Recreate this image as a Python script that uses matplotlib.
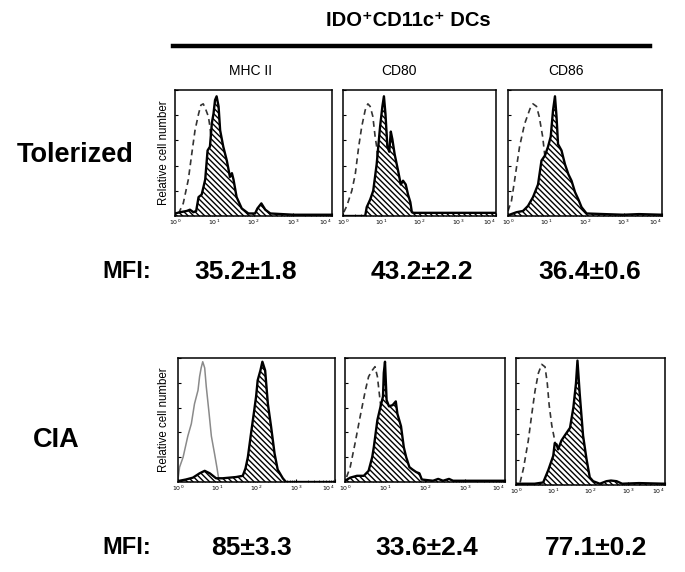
import matplotlib
matplotlib.use("Agg")
import matplotlib.pyplot as plt
import numpy as np

W, H = 685, 572

# ── data: positions in log10 decades (0..4), heights as fraction of panel ──
# Tolerized
tol_mhc_x   = [0.00, 0.13, 0.30, 0.38, 0.47, 0.54, 0.60, 0.68, 0.77, 0.83, 0.89, 0.94, 0.98, 1.02, 1.06,
               1.11, 1.15, 1.23, 1.32, 1.40, 1.45, 1.49, 1.57, 1.70, 1.87, 2.04, 2.10, 2.20, 2.30, 2.43, 3.02, 4.00]
tol_mhc_y   = [0.02, 0.03, 0.04, 0.05, 0.03, 0.04, 0.15, 0.17, 0.29, 0.52, 0.55, 0.74, 0.81, 0.92, 0.95,
               0.87, 0.68, 0.55, 0.44, 0.31, 0.34, 0.29, 0.15, 0.06, 0.02, 0.02, 0.06, 0.10, 0.05, 0.02, 0.01, 0.01]
tol_mhc_cx  = [0.09, 0.21, 0.34, 0.43, 0.51, 0.60, 0.66, 0.72, 0.79, 0.85, 0.89, 0.98, 1.06, 1.15, 1.30]
tol_mhc_cy  = [0.02, 0.10, 0.29, 0.50, 0.68, 0.81, 0.88, 0.89, 0.84, 0.79, 0.71, 0.42, 0.15, 0.02, 0.00]

tol_cd80_x  = [0.00, 0.58, 0.62, 0.71, 0.79, 0.88, 0.97, 1.03, 1.07, 1.11, 1.16, 1.21, 1.25, 1.29, 1.35,
               1.44, 1.51, 1.57, 1.64, 1.70, 1.76, 1.80, 1.85, 2.40, 3.00, 3.60, 4.00]
tol_cd80_y  = [0.00, 0.00, 0.07, 0.13, 0.20, 0.41, 0.71, 0.87, 0.95, 0.81, 0.55, 0.51, 0.67, 0.61, 0.49,
               0.36, 0.25, 0.28, 0.25, 0.17, 0.11, 0.03, 0.025, 0.025, 0.025, 0.025, 0.025]
tol_cd80_cx = [0.02, 0.10, 0.23, 0.32, 0.41, 0.49, 0.58, 0.65, 0.71, 0.78, 0.84, 0.88, 0.95, 1.05, 1.15]
tol_cd80_cy = [0.03, 0.08, 0.20, 0.33, 0.55, 0.71, 0.84, 0.89, 0.87, 0.79, 0.63, 0.55, 0.30, 0.10, 0.00]

tol_cd86_x  = [0.04, 0.22, 0.39, 0.52, 0.65, 0.78, 0.87, 0.96, 1.04, 1.11, 1.17, 1.22, 1.26, 1.30, 1.39,
               1.48, 1.57, 1.65, 1.74, 1.83, 1.91, 2.04, 2.50, 3.00, 3.40, 4.00]
tol_cd86_y  = [0.01, 0.03, 0.04, 0.08, 0.15, 0.25, 0.44, 0.48, 0.55, 0.63, 0.84, 0.95, 0.79, 0.57, 0.52,
               0.41, 0.33, 0.28, 0.19, 0.13, 0.07, 0.02, 0.015, 0.01, 0.015, 0.01]
tol_cd86_cx = [0.00, 0.09, 0.17, 0.30, 0.43, 0.57, 0.65, 0.74, 0.81, 0.90, 0.96, 1.05, 1.15]
tol_cd86_cy = [0.04, 0.12, 0.28, 0.55, 0.73, 0.85, 0.89, 0.87, 0.79, 0.63, 0.47, 0.25, 0.05]

# CIA
cia_mhc_x   = [0.04, 0.20, 0.38, 0.55, 0.68, 0.81, 0.97, 1.14, 1.31, 1.48, 1.65, 1.72, 1.78, 1.86, 1.93,
               1.99, 2.03, 2.10, 2.15, 2.22, 2.29, 2.37, 2.46, 2.54, 2.67, 2.75, 4.00]
cia_mhc_y   = [0.01, 0.02, 0.035, 0.07, 0.09, 0.07, 0.03, 0.03, 0.035, 0.04, 0.05, 0.11, 0.20, 0.39, 0.55,
               0.69, 0.82, 0.90, 0.97, 0.90, 0.63, 0.45, 0.23, 0.10, 0.03, 0.00, 0.00]
cia_mhc_cx  = [0.00, 0.04, 0.13, 0.25, 0.34, 0.42, 0.51, 0.55, 0.59, 0.63, 0.68, 0.72, 0.79, 0.85, 0.93, 0.99, 1.04]
cia_mhc_cy  = [0.02, 0.12, 0.20, 0.37, 0.47, 0.63, 0.74, 0.85, 0.92, 0.97, 0.92, 0.77, 0.56, 0.37, 0.23, 0.12, 0.02]

cia_cd80_x  = [0.00, 0.13, 0.30, 0.47, 0.59, 0.68, 0.72, 0.81, 0.89, 0.95, 0.97, 1.00, 1.04, 1.10, 1.19,
               1.27, 1.31, 1.40, 1.47, 1.53, 1.61, 1.69, 1.78, 1.86, 1.92, 2.20, 2.33, 2.45, 2.60, 2.70, 3.20, 4.00]
cia_cd80_y  = [0.01, 0.035, 0.05, 0.05, 0.09, 0.20, 0.28, 0.50, 0.61, 0.69, 0.88, 0.97, 0.66, 0.61, 0.62,
               0.65, 0.55, 0.45, 0.28, 0.20, 0.12, 0.10, 0.08, 0.07, 0.02, 0.01, 0.025, 0.01, 0.025, 0.01, 0.01, 0.01]
cia_cd80_cx = [0.04, 0.13, 0.25, 0.38, 0.51, 0.59, 0.68, 0.75, 0.81, 0.89, 0.97, 1.05, 1.15]
cia_cd80_cy = [0.04, 0.12, 0.31, 0.53, 0.74, 0.85, 0.90, 0.93, 0.85, 0.62, 0.35, 0.12, 0.00]

cia_cd86_x  = [0.00, 0.50, 0.73, 0.87, 1.00, 1.04, 1.09, 1.13, 1.22, 1.31, 1.45, 1.54, 1.61, 1.65, 1.71,
               1.80, 1.89, 1.98, 2.07, 2.25, 2.43, 2.55, 2.70, 2.85, 3.30, 4.00]
cia_cd86_y  = [0.01, 0.01, 0.02, 0.12, 0.23, 0.33, 0.32, 0.28, 0.35, 0.39, 0.45, 0.61, 0.80, 0.98, 0.72,
               0.39, 0.21, 0.06, 0.03, 0.01, 0.03, 0.035, 0.03, 0.01, 0.015, 0.01]
cia_cd86_cx = [0.11, 0.20, 0.33, 0.42, 0.51, 0.60, 0.69, 0.78, 0.84, 0.89, 0.96, 1.04, 1.15, 1.25]
cia_cd86_cy = [0.02, 0.13, 0.35, 0.55, 0.74, 0.88, 0.95, 0.93, 0.80, 0.63, 0.47, 0.35, 0.15, 0.02]

markers = ['MHC II', 'CD80', 'CD86']
groups = ['Tolerized', 'CIA']
mfi_tol = ['35.2\u00b11.8', '43.2\u00b12.2', '36.4\u00b10.6']
mfi_cia = ['85\u00b13.3', '33.6\u00b12.4', '77.1\u00b10.2']

# panel boxes in pixels: left, top, right, bottom
top_boxes = [(175, 90, 332, 216), (343, 90, 496, 216), (508, 90, 662, 216)]
bot_boxes = [(178, 358, 335, 482), (345, 358, 505, 482), (516, 358, 665, 485)]

fig = plt.figure(figsize=(W / 100, H / 100), dpi=100)
plt.rcParams['font.family'] = ['Liberation Sans', 'DejaVu Sans']
plt.rcParams['hatch.linewidth'] = 1.0


def add_panel(box):
    l, t, r, b = box
    return fig.add_axes([l / W, 1 - b / H, (r - l) / W, (b - t) / H])


def draw_hist(ax, hx, hy, cx, cy, ctrl_style='dashed'):
    if ctrl_style == 'dashed':
        ax.plot(cx, cy, color='#333333', lw=1.2, ls=(0, (3.5, 2.5)), zorder=1)
    else:
        ax.plot(cx, cy, color='#8a8a8a', lw=1.1, zorder=1)
    ax.fill_between(hx, 0, hy, facecolor='white', edgecolor='black', hatch='\\\\\\\\\\\\',
                    linewidth=0, zorder=2)
    ax.plot(hx, hy, color='black', lw=1.7, zorder=3)
    ax.set_xlim(0, 4)
    ax.set_ylim(0, 1.0)
    ax.set_xticks([0, 1, 2, 3, 4])
    labs = ax.set_xticklabels([f'$10^{k}$' for k in range(5)], fontsize=4.5, style='italic')
    labs[-1].set_ha('right')
    minor = [k + np.log10(m) for k in range(4) for m in range(2, 10)]
    ax.set_xticks(minor, minor=True)
    ax.set_yticks([0.2, 0.4, 0.6, 0.8, 1.0])
    ax.set_yticklabels([])
    ax.tick_params(axis='both', which='major', direction='in', length=2.5, width=0.8, pad=1.5)
    ax.tick_params(axis='x', which='minor', direction='in', length=1.2, width=0.5)
    for s in ax.spines.values():
        s.set_linewidth(1.1)


tol_data = [(tol_mhc_x, tol_mhc_y, tol_mhc_cx, tol_mhc_cy),
            (tol_cd80_x, tol_cd80_y, tol_cd80_cx, tol_cd80_cy),
            (tol_cd86_x, tol_cd86_y, tol_cd86_cx, tol_cd86_cy)]
cia_data = [(cia_mhc_x, cia_mhc_y, cia_mhc_cx, cia_mhc_cy),
            (cia_cd80_x, cia_cd80_y, cia_cd80_cx, cia_cd80_cy),
            (cia_cd86_x, cia_cd86_y, cia_cd86_cx, cia_cd86_cy)]

for i, box in enumerate(top_boxes):
    ax = add_panel(box)
    draw_hist(ax, *tol_data[i])
    if i == 0:
        ax.set_ylabel('Relative cell number', fontsize=8.3, labelpad=2)

for i, box in enumerate(bot_boxes):
    ax = add_panel(box)
    draw_hist(ax, *cia_data[i], ctrl_style='solid' if i == 0 else 'dashed')
    if i == 0:
        ax.set_ylabel('Relative cell number', fontsize=8.3, labelpad=4)


def ftext(x, y, s, **kw):
    fig.text(x / W, 1 - y / H, s, ha='center', va='center', **kw)


# header
ftext(408, 21, 'IDO\u207aCD11c\u207a DCs', fontsize=14.5, fontweight='bold')
fig.add_artist(plt.Line2D([173 / W, 650 / W], [1 - 46 / H, 1 - 46 / H], color='black', lw=3.2))
for x, m in zip([251, 399, 566], markers):
    ftext(x, 71, m, fontsize=10)

ftext(75, 155, groups[0], fontsize=19.5, fontweight='bold')
ftext(56, 440, groups[1], fontsize=19.5, fontweight='bold')

ftext(127, 272, 'MFI:', fontsize=17, fontweight='bold')
ftext(127, 548, 'MFI:', fontsize=17, fontweight='bold')
for x, s in zip([246, 422, 590], mfi_tol):
    ftext(x, 272, s, fontsize=19, fontweight='bold')
for x, s in zip([251, 427, 596], mfi_cia):
    ftext(x, 548, s, fontsize=19, fontweight='bold')

fig.savefig('out.png', dpi=100)
